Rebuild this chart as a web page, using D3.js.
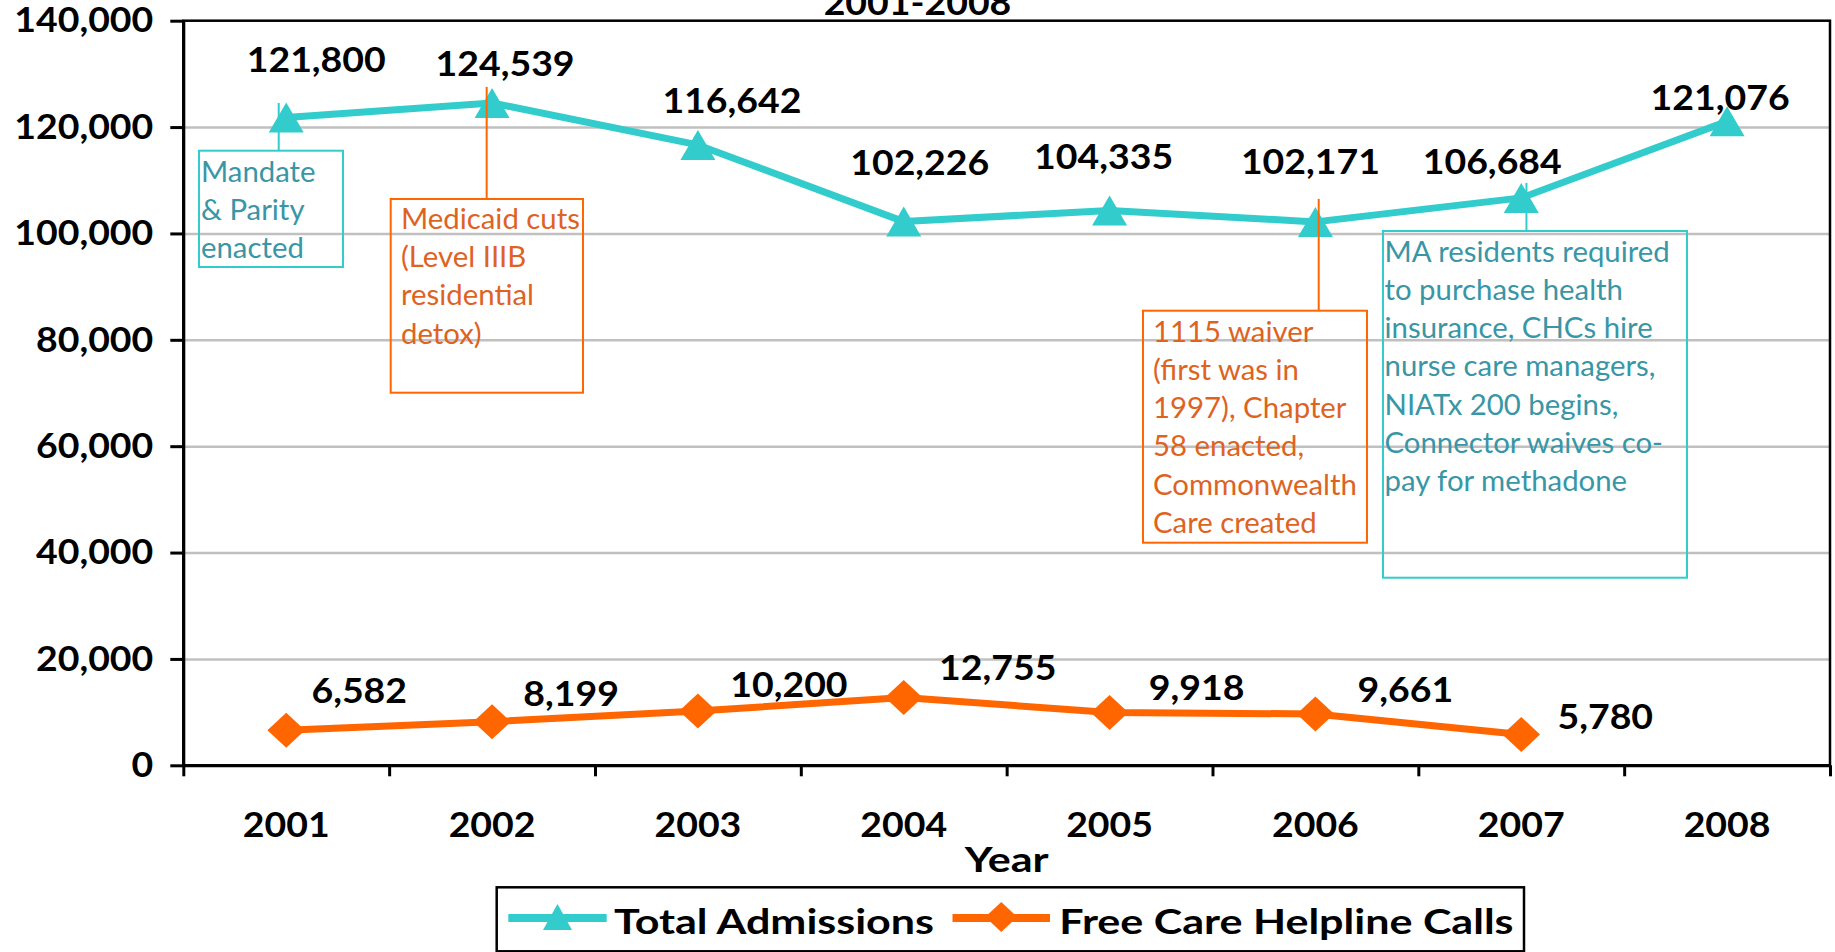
<!DOCTYPE html>
<html>
<head>
<meta charset="utf-8">
<script src="https://cdn.jsdelivr.net/npm/d3@7"></script>
<style>
  body { margin: 0; background: #fff; }
  svg { display: block; }
</style>
</head>
<body>
<svg width="1835" height="952"></svg>
<script>
// ---- data ----
const years = ['2001', '2002', '2003', '2004', '2005', '2006', '2007', '2008'];
const admissions = [121800, 124539, 116642, 102226, 104335, 102171, 106684, 121076];
const helplineCalls = [6582, 8199, 10200, 12755, 9918, 9661, 5780, null];
const yTicks = [0, 20000, 40000, 60000, 80000, 100000, 120000, 140000];
const seriesNames = ['Total Admissions', 'Free Care Helpline Calls'];
const titleText = '2001-2008';
const xTitle = 'Year';

// annotation texts (which series / year they point at)
const noteYears = ['2001', '2002', '2006', '2007'];
const noteSeries = ['adm', 'adm', 'adm', 'adm'];
const noteLines = [
  ['Mandate', '& Parity', 'enacted'],
  ['Medicaid cuts', '(Level IIIB', 'residential', 'detox)'],
  ['1115 waiver', '(first was in', '1997), Chapter', '58 enacted,', 'Commonwealth', 'Care created'],
  ['MA residents required', 'to purchase health', 'insurance, CHCs hire', 'nurse care managers,', 'NIATx 200 begins,', 'Connector waives co-', 'pay for methadone']
];

// ---- layout ----
const plot = {left: 183.3, right: 1830, top: 20.7, bottom: 765.3};
const SX = 1.07;   // digits: source text is a bit wider than it is tall
const SXW = 1.23;  // words in the bold font
const SXN = 1.03;  // note text
const cyan = '#33cccc', orange = '#ff6600';

// label offsets from their point (dx, dy to baseline)
const admLabelOff = [[30, -45], [13, -27], [34, -32], [16, -47], [-6, -41], [-5, -48], [-29, -24], [-7, -11]];
const callLabelOff = [[73, -27], [79, -16], [91, -14], [94, -17], [87, -13], [90, -12], [84, -6]];

// note boxes: [x, y, w, h], colour, connector dx/top offset
const noteBoxes = [
  {box: [199, 150.7, 144, 116.3], col: cyan, txt: '#3896a6', tx: 201, ty: 181.7, dx: -7.5, up: -14.5},
  {box: [390.7, 199, 192.3, 193.7], col: orange, txt: '#de631f', tx: 401, ty: 229, dx: -5.4, up: -16},
  {box: [1143, 310.7, 224, 232], col: orange, txt: '#de631f', tx: 1153, ty: 341.7, dx: 3.3, up: -23},
  {box: [1383, 231, 304, 346.7], col: cyan, txt: '#3896a6', tx: 1384.5, ty: 261.7, dx: 5.2, up: -15}
];
const lineH = 38.2;

const svg = d3.select('svg');
const fmt = d3.format(',');

const x = d3.scaleBand().domain(years).range([plot.left, plot.right]);
const cx = d => x(d) + x.bandwidth() / 2;
const y = d3.scaleLinear().domain([0, 140000]).range([plot.bottom, plot.top]);

function stretch(sel, sx) {
  sel.each(function () {
    const t = d3.select(this);
    const tx = +t.attr('x') || 0, ty = +t.attr('y') || 0;
    t.attr('x', null).attr('y', null)
      .attr('transform', `translate(${tx},${ty}) scale(${sx || SX},1)`);
  });
}
function boldText(sel, size) {
  sel.attr('font-family', 'Lato, sans-serif')
    .attr('font-weight', 700)
    .attr('font-size', size || 35)
    .attr('fill', '#000');
}

const triangle = (w, h) => `M0,${-h / 2}L${w / 2},${h / 2}L${-w / 2},${h / 2}Z`;
const diamond = (w, h) => `M0,${-h / 2}L${w / 2},0L0,${h / 2}L${-w / 2},0Z`;

// gridlines
svg.append('g')
  .attr('transform', `translate(${plot.left},0)`)
  .call(d3.axisLeft(y).tickValues(yTicks.slice(1, -1)).tickSize(-(plot.right - plot.left)).tickFormat(''))
  .call(g => g.select('.domain').remove())
  .selectAll('line')
  .attr('stroke', '#c0c0c0')
  .attr('stroke-width', 2.5);

// plot frame
svg.append('rect')
  .attr('x', plot.left).attr('y', plot.top)
  .attr('width', plot.right - plot.left).attr('height', plot.bottom - plot.top)
  .attr('fill', 'none').attr('stroke', '#000').attr('stroke-width', 2.5);

// y axis
svg.append('g')
  .attr('transform', `translate(${plot.left},0)`)
  .call(d3.axisLeft(y).tickValues(yTicks).tickSize(13).tickSizeOuter(0).tickPadding(17).tickFormat(fmt))
  .call(g => {
    g.select('.domain').attr('stroke-width', 3);
    g.selectAll('.tick line').attr('stroke-width', 3);
    g.selectAll('text').call(boldText).call(stretch);
  });

// x axis: tick marks on the band edges, labels in the middle
const xEdge = d3.scaleLinear().domain([0, years.length]).range([plot.left, plot.right]);
svg.append('g')
  .attr('transform', `translate(0,${plot.bottom})`)
  .call(d3.axisBottom(xEdge).ticks(years.length).tickSize(11).tickSizeOuter(0).tickFormat(''))
  .call(g => {
    g.select('.domain').attr('stroke-width', 3);
    g.selectAll('.tick line').attr('stroke-width', 3);
  });

svg.append('g')
  .attr('transform', `translate(0,${plot.bottom})`)
  .call(d3.axisBottom(x).tickSize(0))
  .call(g => g.select('.domain').remove())
  .selectAll('text')
  .attr('y', 71.4).attr('dy', null)
  .call(boldText).call(stretch);

svg.append('text')
  .attr('x', (plot.left + plot.right) / 2).attr('y', 871.7)
  .attr('text-anchor', 'middle')
  .text(xTitle)
  .call(boldText).call(stretch, SXW);

// title (mostly cut off at the top, as in the source)
svg.append('text')
  .attr('x', 917.5).attr('y', 15)
  .attr('text-anchor', 'middle')
  .text(titleText)
  .call(boldText).call(stretch);

// data labels (under the markers)
const admData = years.map((yr, i) => ({year: yr, v: admissions[i], off: admLabelOff[i]}));
const callData = years.map((yr, i) => ({year: yr, v: helplineCalls[i], off: callLabelOff[i]}))
  .filter(d => d.v != null);

svg.append('g').selectAll('text')
  .data(admData.concat(callData))
  .join('text')
  .attr('x', d => cx(d.year) + d.off[0])
  .attr('y', d => y(d.v) + d.off[1])
  .attr('text-anchor', 'middle')
  .text(d => fmt(d.v))
  .call(boldText).call(stretch);

// series
const line = d3.line().x(d => cx(d.year)).y(d => y(d.v));

svg.append('path').datum(admData)
  .attr('d', line).attr('fill', 'none')
  .attr('stroke', cyan).attr('stroke-width', 7).attr('stroke-linejoin', 'round');
svg.append('path').datum(callData)
  .attr('d', line).attr('fill', 'none')
  .attr('stroke', orange).attr('stroke-width', 7).attr('stroke-linejoin', 'round');

svg.append('g').selectAll('path')
  .data(admData).join('path')
  .attr('transform', d => `translate(${cx(d.year)},${y(d.v)})`)
  .attr('d', triangle(35, 30)).attr('fill', cyan);
svg.append('g').selectAll('path')
  .data(callData).join('path')
  .attr('transform', d => `translate(${cx(d.year)},${y(d.v)})`)
  .attr('d', diamond(37.6, 35)).attr('fill', orange);

// annotations
noteBoxes.forEach((nb, i) => {
  const g = svg.append('g');
  const yr = noteYears[i];
  const v = noteSeries[i] === 'adm' ? admissions[years.indexOf(yr)] : helplineCalls[years.indexOf(yr)];
  const lx = cx(yr) + nb.dx;
  g.append('line')
    .attr('x1', lx).attr('x2', lx)
    .attr('y1', y(v) + nb.up).attr('y2', nb.box[1])
    .attr('stroke', nb.col).attr('stroke-width', 2);
  g.append('rect')
    .attr('x', nb.box[0]).attr('y', nb.box[1])
    .attr('width', nb.box[2]).attr('height', nb.box[3])
    .attr('fill', 'none').attr('stroke', nb.col).attr('stroke-width', 2);
  g.selectAll('text')
    .data(noteLines[i]).join('text')
    .attr('x', nb.tx)
    .attr('y', (d, j) => nb.ty + j * lineH)
    .attr('font-family', 'Lato, sans-serif')
    .attr('font-size', 28.5)
    .attr('fill', nb.txt)
    .text(d => d)
    .call(stretch, SXN);
});

// legend
const lg = svg.append('g');
lg.append('rect')
  .attr('x', 496.7).attr('y', 887.3).attr('width', 1027.3).attr('height', 64)
  .attr('fill', '#fff').attr('stroke', '#000').attr('stroke-width', 2.5);

const legendItems = [
  {name: seriesNames[0], col: cyan, shape: triangle(29, 26), x0: 508.3, x1: 606.7, tx: 614},
  {name: seriesNames[1], col: orange, shape: diamond(32, 30), x0: 952.5, x1: 1050, tx: 1059.3}
];
legendItems.forEach(it => {
  lg.append('line')
    .attr('x1', it.x0).attr('x2', it.x1).attr('y1', 918).attr('y2', 918)
    .attr('stroke', it.col).attr('stroke-width', 8);
  lg.append('path')
    .attr('transform', `translate(${(it.x0 + it.x1) / 2},917)`)
    .attr('d', it.shape).attr('fill', it.col);
  lg.append('text')
    .attr('x', it.tx).attr('y', 934)
    .text(it.name)
    .call(boldText).call(stretch, SXW);
});
</script>
</body>
</html>
